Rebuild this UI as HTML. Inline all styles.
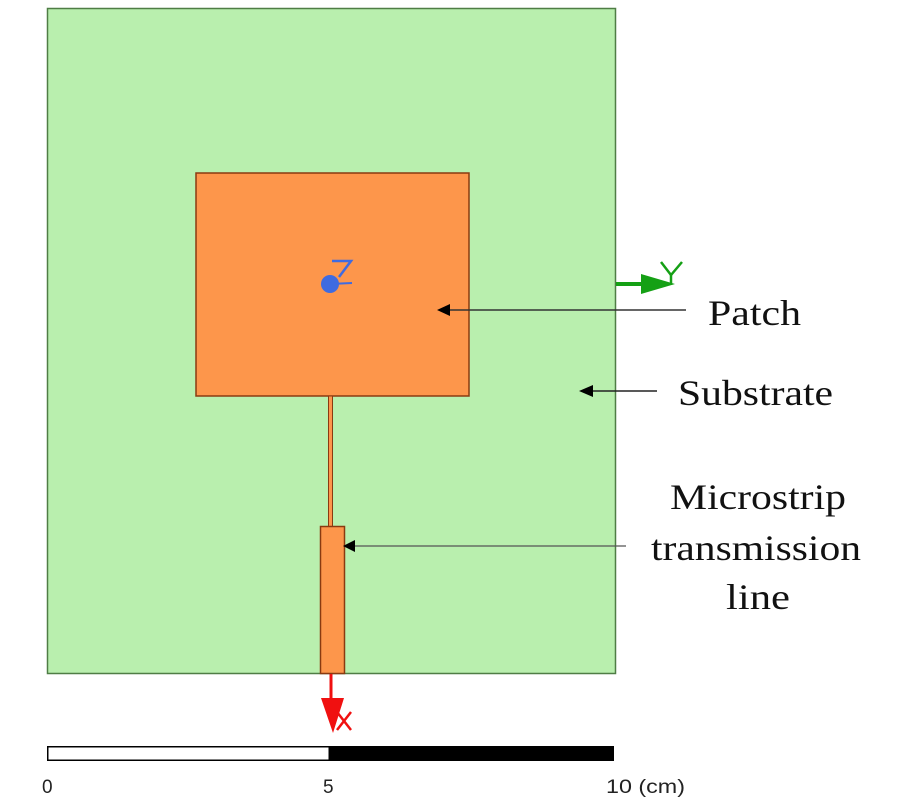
<!DOCTYPE html>
<html><head><meta charset="utf-8"><style>body{margin:0;background:#fff}svg{display:block}</style></head>
<body>
<svg width="900" height="800" viewBox="0 0 900 800" xmlns="http://www.w3.org/2000/svg">
<rect x="47.5" y="8.5" width="568" height="665" fill="#b9efae" stroke="#4f7d45" stroke-width="1.5"/>
<rect x="196" y="173" width="273" height="223" fill="#fd964b" stroke="#8a3a10" stroke-width="1.5"/>
<rect x="328.5" y="396" width="4" height="131" fill="#fd964b" stroke="#8a3a10" stroke-width="1"/>
<rect x="320.5" y="526.5" width="24" height="147" fill="#fd964b" stroke="#8a3a10" stroke-width="1.5"/>
<!-- z axis -->
<circle cx="330" cy="284" r="9" fill="#3f6be0"/>
<line x1="330" y1="284" x2="352" y2="283" stroke="#3f6be0" stroke-width="2"/>
<polyline points="332,261 351,261 339,277" fill="none" stroke="#3f6be0" stroke-width="2.5"/>
<!-- y axis -->
<line x1="616" y1="284" x2="650" y2="284" stroke="#15a015" stroke-width="4"/>
<polygon points="641,274 675,284 641,294" fill="#15a015"/>
<polyline points="661,262 671,275 682,262" fill="none" stroke="#15a015" stroke-width="2.5"/>
<line x1="671" y1="275" x2="671" y2="285" stroke="#15a015" stroke-width="2.5"/>
<!-- x axis -->
<line x1="331" y1="674" x2="331" y2="705" stroke="#f01010" stroke-width="3"/>
<polygon points="321,698 344,698 333,733" fill="#f01010"/>
<line x1="337" y1="730" x2="351" y2="712" stroke="#f01010" stroke-width="2.5"/>
<line x1="337" y1="712" x2="351" y2="730" stroke="#f01010" stroke-width="2.5"/>
<!-- pointer arrows -->
<line x1="448" y1="310" x2="686" y2="310" stroke="#333" stroke-width="1.5"/>
<polygon points="437,310 450,304 450,316" fill="#000"/>
<line x1="590" y1="391" x2="657" y2="391" stroke="#222" stroke-width="1.5"/>
<polygon points="579,391 593,385 593,397" fill="#000"/>
<line x1="352" y1="546" x2="626" y2="546" stroke="#555" stroke-width="1.2"/>
<polygon points="343,546 355,540 355,552" fill="#000"/>
<!-- labels -->
<g font-family="Liberation Serif, serif" font-size="36" fill="#111" lengthAdjust="spacingAndGlyphs">
<text x="708" y="325" textLength="93" lengthAdjust="spacingAndGlyphs">Patch</text>
<text x="678" y="405" textLength="155" lengthAdjust="spacingAndGlyphs">Substrate</text>
<text x="670" y="509" textLength="176" lengthAdjust="spacingAndGlyphs">Microstrip</text>
<text x="651" y="560" textLength="210" lengthAdjust="spacingAndGlyphs">transmission</text>
<text x="726" y="609" textLength="64" lengthAdjust="spacingAndGlyphs">line</text>
</g>
<!-- scale bar -->
<rect x="47" y="746" width="567" height="15" fill="#000"/>
<rect x="48.5" y="747.5" width="280" height="12" fill="#fff"/>
<g font-family="Liberation Sans, sans-serif" font-size="19" fill="#222">
<text x="42" y="793">0</text>
<text x="323" y="793">5</text>
<text x="606" y="793" textLength="79" lengthAdjust="spacingAndGlyphs">10 (cm)</text>
</g>
</svg>
</body></html>
